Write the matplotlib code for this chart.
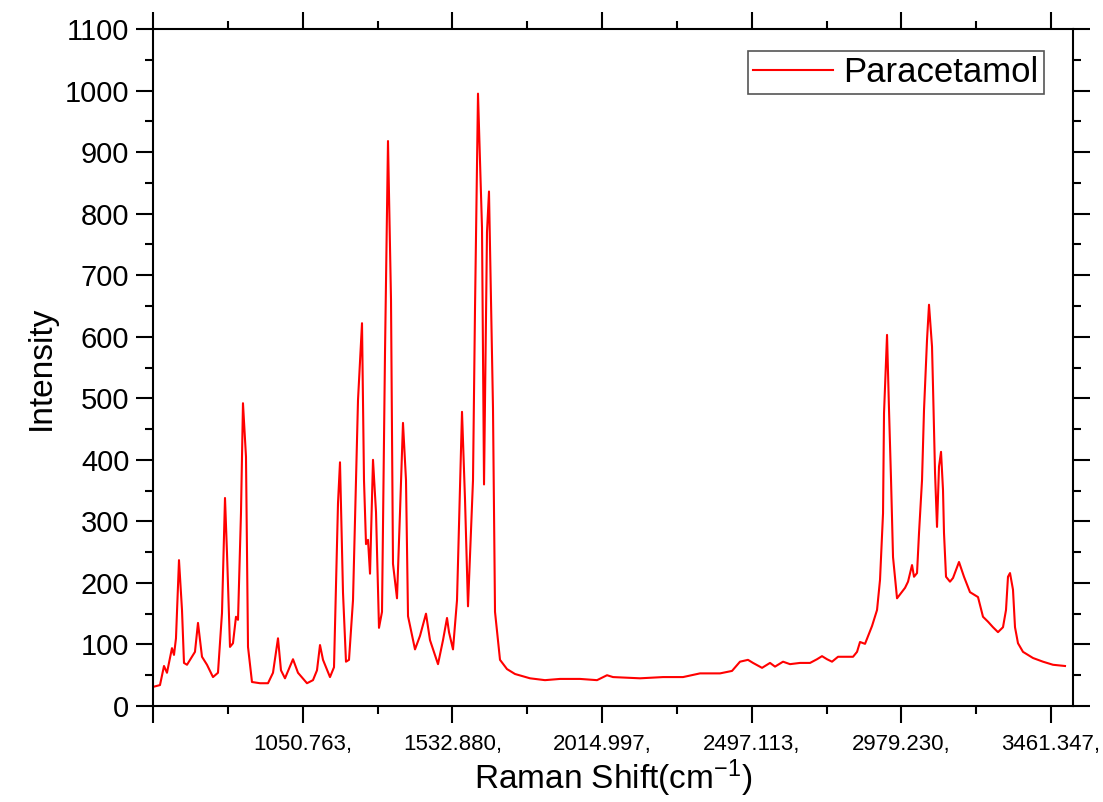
import matplotlib
matplotlib.use("Agg")
import matplotlib.pyplot as plt
from matplotlib.ticker import FixedLocator

plt.rcParams['font.family'] = ['Liberation Sans', 'DejaVu Sans']
plt.rcParams['mathtext.fontset'] = 'custom'
plt.rcParams['mathtext.rm'] = 'Liberation Sans'
plt.rcParams['mathtext.default'] = 'regular'

# Raman spectrum of paracetamol (shift in cm-1, intensity in counts)
shift = [568.6, 591.2, 604.1, 613.7, 629.8, 636.3, 642.7, 652.4, 662.1, 668.5,
         678.2, 694.3, 703.9, 713.6, 726.5, 742.6, 761.9, 778.0, 790.9, 800.6,
         807.0, 816.7, 826.3, 836.0, 842.5, 852.1, 858.5, 868.2, 874.7, 887.5,
         913.3, 939.1, 955.2, 971.3, 980.9, 993.8, 1019.6, 1035.7, 1064.7, 1084.0,
         1096.9, 1106.6, 1116.3, 1138.8, 1151.7, 1164.6, 1171.0, 1180.7, 1190.3, 1200.0,
         1212.9, 1229.0, 1241.9, 1248.3, 1254.8, 1261.2, 1267.7, 1277.3, 1287.0, 1296.6,
         1306.3, 1316.0, 1325.6, 1335.3, 1341.7, 1354.6, 1364.3, 1373.9, 1383.6, 1390.1,
         1412.6, 1428.7, 1448.0, 1460.9, 1486.7, 1502.8, 1515.7, 1522.1, 1535.0, 1547.9,
         1564.0, 1573.7, 1583.3, 1599.4, 1605.9, 1615.5, 1628.4, 1634.9, 1644.5, 1650.9,
         1663.8, 1670.3, 1686.4, 1708.9, 1734.7, 1783.0, 1831.3, 1879.7, 1944.1, 1998.9,
         2031.1, 2050.4, 2137.4, 2211.5, 2275.9, 2330.6, 2395.1, 2433.7, 2459.4, 2485.1,
         2501.4, 2530.4, 2556.1, 2572.2, 2598.0, 2620.5, 2652.8, 2685.0, 2707.5, 2723.6,
         2739.7, 2755.8, 2775.2, 2804.1, 2823.5, 2836.4, 2846.0, 2862.1, 2884.7, 2900.8,
         2910.4, 2920.1, 2923.3, 2933.0, 2939.4, 2945.9, 2952.3, 2965.2, 2991.0, 3000.6,
         3013.5, 3019.9, 3029.6, 3036.0, 3045.7, 3052.1, 3061.8, 3068.2, 3077.9, 3081.1,
         3087.6, 3094.0, 3100.4, 3106.9, 3113.3, 3116.5, 3123.0, 3135.8, 3145.5, 3164.8,
         3180.9, 3200.2, 3226.0, 3242.1, 3258.2, 3274.3, 3290.4, 3306.5, 3316.2, 3322.6,
         3329.1, 3338.7, 3345.2, 3354.8, 3370.9, 3403.1, 3435.3, 3467.5, 3506.2]
intensity = [31, 34, 65, 54, 94, 83, 110, 237, 156, 70,
             67, 80, 88, 135, 80, 67, 47, 54, 151, 338,
             249, 96, 102, 145, 140, 314, 492, 405, 96, 39,
             37, 37, 54, 110, 58, 45, 76, 54, 37, 42,
             58, 99, 75, 47, 63, 330, 396, 184, 72, 75,
             172, 497, 622, 367, 263, 270, 215, 400, 315, 127,
             153, 575, 918, 660, 231, 175, 315, 460, 367, 146,
             92, 114, 150, 107, 68, 107, 143, 120, 92, 172,
             478, 335, 162, 367, 647, 995, 777, 360, 770, 836,
             484, 153, 75, 60, 52, 45, 42, 44, 44, 42,
             50, 47, 45, 47, 47, 53, 53, 57, 72, 75,
             70, 62, 70, 64, 72, 68, 70, 70, 76, 81,
             76, 72, 80, 80, 80, 88, 104, 101, 130, 156,
             205, 313, 476, 603, 481, 367, 242, 175, 192, 202,
             229, 210, 216, 281, 367, 481, 595, 652, 584, 519,
             379, 291, 389, 413, 351, 281, 210, 202, 208, 234,
             210, 185, 177, 145, 137, 128, 120, 128, 156, 210,
             216, 189, 128, 102, 88, 78, 72, 67, 65]

major_x = [568.646, 1050.763, 1532.880, 2014.997, 2497.113, 2979.230, 3461.347]
major_x_labels = ['', '1050.763,', '1532.880,', '2014.997,', '2497.113,', '2979.230,', '3461.347,']
minor_x = [809.705, 1291.822, 1773.939, 2256.055, 2738.172, 3220.289]

fig = plt.figure(figsize=(11.03, 8.02), dpi=100)
ax = fig.add_axes([0.1387, 0.1197, 0.8341, 0.8441])

ax.plot(shift, intensity, color='red', lw=1.5, label='Paracetamol')

ax.set_xlim(568.646, 3532.0)
ax.set_ylim(0, 1100)

ax.xaxis.set_major_locator(FixedLocator(major_x))
ax.xaxis.set_minor_locator(FixedLocator(minor_x))
ax.set_xticklabels(major_x_labels)
ax.set_yticks(range(0, 1101, 100))
ax.yaxis.set_minor_locator(FixedLocator(list(range(50, 1100, 100))))

ax.tick_params(which='both', direction='out', width=1.5, top=True, right=True,
               labeltop=False, labelright=False)
ax.tick_params(which='major', length=12)
ax.tick_params(which='minor', length=6)
ax.tick_params(axis='x', which='major', labelsize=16, pad=8)
ax.tick_params(axis='y', which='major', labelsize=21, pad=5)
for sp in ax.spines.values():
    sp.set_linewidth(1.5)

ax.set_xlabel('Raman Shift(cm$^{-1}$)', fontsize=24, labelpad=2)
ax.set_ylabel('Intensity', fontsize=24, labelpad=6)

leg = ax.legend(loc='upper right', bbox_to_anchor=(0.9685, 0.9675), borderaxespad=0,
                fontsize=25, fancybox=False, framealpha=1, edgecolor='#555555',
                handlelength=2.3, handletextpad=0.3, borderpad=0.15)
leg.get_frame().set_linewidth(1.2)

fig.savefig('out.png', dpi=100)
